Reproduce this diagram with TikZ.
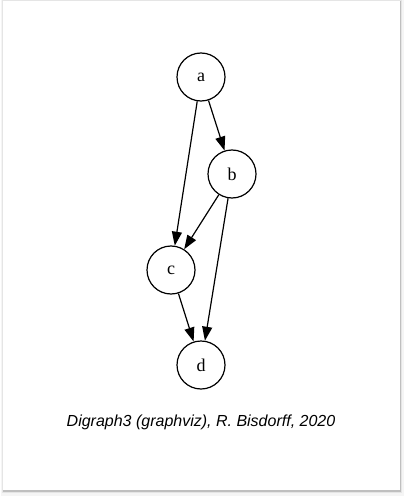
\documentclass[tikz,border=0pt]{standalone}
\usepackage{fontspec}
\setmainfont{Liberation Serif}
\newfontfamily\capfont{Liberation Sans}
\usepackage{tikz}
\usetikzlibrary{arrows.meta, calc}
\tikzstyle{vertex} = [circle, draw, line width=1.2pt, fill=white,
    minimum size=48pt, inner sep=0pt, font=\fontsize{18}{18}\selectfont]
\tikzstyle{line} = [draw, line width=1.2pt, -{Triangle[length=14pt, width=10pt]}]
\tikzstyle{caption} = [font=\capfont\itshape\fontsize{16}{16}\selectfont]

\begin{document}
\begin{tikzpicture}[x=1pt, y=-1pt]
    \useasboundingbox (0,0) rectangle (406,497);
    % Frame with shadow
    \fill[black!4] (1,0) rectangle (404,496);
    \fill[black!10] (2,0) rectangle (402,493);
    \fill[black!25] (3,1) rectangle (400.5,491.5);
    \fill[white] (3,1) rectangle (400,490);
    % Nodes
    \node [vertex] (a) at (201,77) {a};
    \node [vertex] (b) at (232,174) {b};
    \node [vertex] (c) at (171,270) {c};
    \node [vertex] (d) at (201,365) {d};
    \node [caption] (cap) at (201,422) {Digraph3 (graphviz), R. Bisdorff, 2020};
    % Edges
    \path [line] (a) -- (b);
    \path [line] (a) -- (c);
    \path [line] (b) -- (c);
    \path [line] (b) -- (d);
    \path [line] (c) -- (d);
\end{tikzpicture}
\end{document}
